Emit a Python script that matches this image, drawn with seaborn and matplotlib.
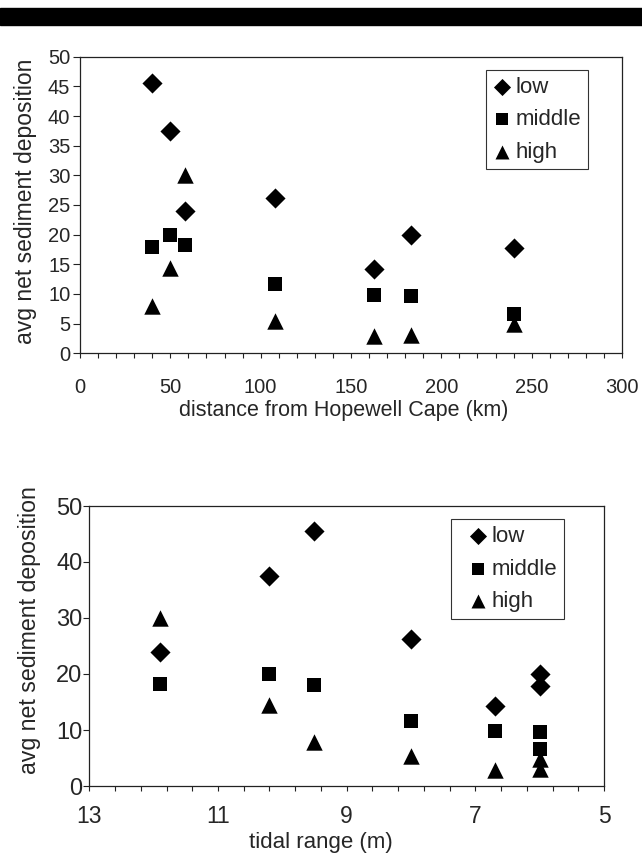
import matplotlib
matplotlib.use("Agg")
import matplotlib.pyplot as plt
import seaborn as sns
import pandas as pd
from matplotlib.ticker import MultipleLocator, FixedLocator
from matplotlib.patches import Rectangle

# ---- data ----
distance_km = [40, 50, 58, 108, 163, 183, 240]
tidal_range_m = [9.5, 10.2, 11.9, 8.0, 6.7, 6.0, 6.0]
low = [45.5, 37.5, 24.0, 26.2, 14.2, 20.0, 17.8]
middle = [18.0, 20.0, 18.3, 11.6, 9.9, 9.7, 6.6]
high = [7.9, 14.4, 30.0, 5.4, 2.9, 3.1, 4.9]
series_names = ["low", "middle", "high"]
tidal_ticks = [13, 11, 9, 7, 5]

rows = []
for name, vals in zip(series_names, [low, middle, high]):
    for d, t, v in zip(distance_km, tidal_range_m, vals):
        rows.append({"distance": d, "tidal": t, "value": v, "zone": name})
df = pd.DataFrame(rows)

sns.set_style("white")
plt.rcParams["font.family"] = ["Liberation Sans", "DejaVu Sans"]

fig = plt.figure(figsize=(6.42, 8.55), dpi=100)
fig.patches.append(Rectangle((0, 1 - 25 / 855), 1, 17 / 855, transform=fig.transFigure,
                             color="black", zorder=0))

markers = {"low": "D", "middle": "s", "high": "^"}
sizes_pts = {"low": 105, "middle": 115, "high": 140}


def draw(ax, xcol):
    for name in series_names:
        sub = df[df["zone"] == name]
        sns.scatterplot(data=sub, x=xcol, y="value", marker=markers[name], s=sizes_pts[name],
                        color="black", edgecolor="black", linewidth=0, ax=ax, label=name)
    for sp in ax.spines.values():
        sp.set_color("#222222")
        sp.set_linewidth(0.9)


def style_legend(ax, anchor, handlelength, handletextpad):
    leg = ax.legend(loc="upper left", bbox_to_anchor=anchor,
                    bbox_transform=fig.transFigure, fontsize=16, frameon=True, fancybox=False,
                    handletextpad=handletextpad, borderpad=0.3, labelspacing=0.52,
                    handlelength=handlelength, borderaxespad=0, markerscale=0.85)
    leg.get_frame().set_edgecolor("black")
    leg.get_frame().set_linewidth(0.8)
    return leg


# ---- top panel ----
ax1 = fig.add_axes([80 / 642, 1 - 353.3 / 855, 542 / 642, 296.6 / 855])
draw(ax1, "distance")
ax1.set_xlim(0, 300)
ax1.set_ylim(0, 50)
ax1.xaxis.set_major_locator(MultipleLocator(50))
ax1.xaxis.set_minor_locator(MultipleLocator(10))
ax1.yaxis.set_major_locator(MultipleLocator(5))
ax1.tick_params(axis="x", which="both", direction="out", length=3.5, width=0.8, bottom=True,
                labelsize=14.5, pad=14, color="#222222")
ax1.tick_params(axis="y", which="major", direction="out", length=5, width=0.8, left=True,
                labelsize=14.5, pad=2, color="#222222")
ax1.set_xlabel("distance from Hopewell Cape (km)", fontsize=15.5)
ax1.xaxis.set_label_coords(0.486, -0.193)
ax1.xaxis.label.set_va("center")
ax1.set_ylabel("avg net sediment deposition", fontsize=16.5)
ax1.yaxis.set_label_coords(-0.1006, 0.512)
ax1.yaxis.label.set_va("center")
style_legend(ax1, (485.7 / 642, 1 - 70 / 855), 0.85, 0.2)

# ---- bottom panel ----
ax2 = fig.add_axes([89.3 / 642, 1 - 786 / 855, 514.7 / 642, 280 / 855])
draw(ax2, "tidal")
ax2.set_xlim(13, 5)
ax2.set_ylim(0, 50)
ax2.xaxis.set_major_locator(FixedLocator(tidal_ticks))
ax2.xaxis.set_minor_locator(MultipleLocator(0.4, offset=0.2))
ax2.yaxis.set_major_locator(MultipleLocator(10))
ax2.tick_params(axis="x", which="both", direction="out", length=3.5, width=0.8, bottom=True,
                labelsize=16.5, pad=10, color="#222222")
ax2.tick_params(axis="y", which="major", direction="out", length=4, width=0.8, left=True,
                labelsize=17, pad=1, color="#222222")
ax2.set_xlabel("tidal range (m)", fontsize=16)
ax2.xaxis.set_label_coords(0.45, -0.2)
ax2.xaxis.label.set_va("center")
ax2.set_ylabel("avg net sediment deposition", fontsize=16.7)
ax2.yaxis.set_label_coords(-0.116, 0.557)
ax2.yaxis.label.set_va("center")
style_legend(ax2, (450.7 / 642, 1 - 519.3 / 855), 1.85, -0.3)

fig.savefig("out.png", dpi=100)
